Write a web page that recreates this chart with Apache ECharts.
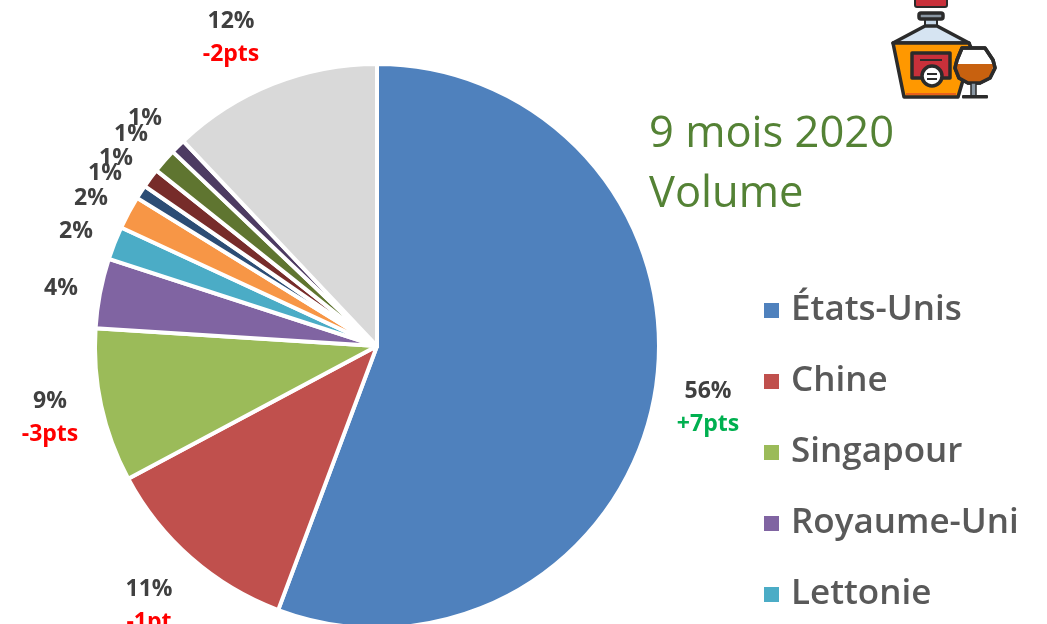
<!DOCTYPE html>
<html>
<head>
<meta charset="utf-8">
<style>html,body{margin:0;padding:0;background:#fff}#c{width:1047px;height:624px}</style>
<script src="https://cdn.jsdelivr.net/npm/echarts@6/dist/echarts.min.js"></script>
</head>
<body>
<div id="c"></div>
<script>
const categories = ['États-Unis','Chine','Singapour','Royaume-Uni','Lettonie','Marché 6','Marché 7','Marché 8','Marché 9','Marché 10','Autres'];
const legendNames = ['États-Unis','Chine','Singapour','Royaume-Uni','Lettonie'];
const values = [55.7,11.5,8.8,4.0,1.9,1.9,0.8,1.1,1.4,0.85,12.05];
const shareLabels = ['56%','11%','9%','4%','2%','2%','1%','1%','1%','1%','12%'];
const deltaLabels = ['+7pts','-1pt','-3pts','','','','','','','','-2pts'];
const colors = ['#4F81BD','#C0504D','#9BBB59','#8064A2','#4BACC6','#F79646','#2C4D75','#772C2A','#5F7530','#4D3B62','#D9D9D9'];
const labelAnchors = [[708,408],[149,606],[50,418],[61,288],[76,231],[91,198],[105,173],[116,158],[131,134],[145,118],[231,38]];

const font = '"Open Sans","Noto Sans",sans-serif';
const ink = '#2b2b2b', stroke = 3.5;
const s = (fill, w) => ({fill: fill, stroke: w ? ink : 'none', lineWidth: w || 0, lineJoin:'round'});
const bowl = [[962,48],[985,48],[993,60],[995,68],[990,78],[980,83],[968,83],[959,78],[955,68],[957,60]];
const icon = [
  {type:'rect', shape:{x:915,y:-6,width:32,height:13,r:2}, style:s('#C8303A',2)},
  {type:'polygon', shape:{points:[[925,19],[937,19],[937,27],[925,27]]}, style:s('#C5D6E6',2)},
  {type:'polygon', shape:{points:[[925,26],[937,26],[969,43],[893,43]]}, style:s('#D6E4F2',stroke)},
  {type:'rect', shape:{x:919,y:13,width:24,height:6,r:2}, style:s('#8A97A3',stroke)},
  {type:'polygon', shape:{points:[[893,43],[969,43],[972,50],[958,97],[904,97]]}, style:s('#FF9800',stroke)},
  {type:'rect', shape:{x:906,y:93,width:50,height:2}, style:s('#E8601C')},
  {type:'rect', shape:{x:912,y:53,width:38,height:25}, style:s('#C8303A',stroke)},
  {type:'rect', shape:{x:920,y:59,width:22,height:2}, style:s(ink)},
  {type:'circle', shape:{cx:932,cy:76,r:10}, style:s('#FFFFFF',stroke)},
  {type:'rect', shape:{x:927,y:73,width:10,height:2}, style:s(ink)},
  {type:'rect', shape:{x:927,y:78,width:10,height:2}, style:s(ink)},
  {type:'polygon', shape:{points:bowl}, style:s('#FFFFFF',stroke)},
  {type:'polygon', shape:{points:[[956,64],[994,64],[990,77],[980,82],[968,82],[959,77]]}, style:s('#C8610F')},
  {type:'polygon', shape:{points:bowl}, style:{fill:'none',stroke:ink,lineWidth:stroke,lineJoin:'round'}},
  {type:'rect', shape:{x:971,y:83,width:5,height:13}, style:s('#8A97A3',1.5)},
  {type:'rect', shape:{x:962,y:95,width:26,height:3.5,r:1}, style:s(ink)}
];

const chart = echarts.init(document.getElementById('c'), null, {renderer:'canvas'});
chart.setOption({
  animation:false,
  backgroundColor:'#fff',
  title:{
    text:'9 mois 2020\nVolume', left:644, top:100,
    textStyle:{color:'#548235', fontFamily:font, fontWeight:'normal', fontSize:43.5, lineHeight:60}
  },
  legend:{
    data:legendNames, orient:'vertical', left:762, top:293, icon:'rect',
    itemWidth:17, itemHeight:17, itemGap:36, padding:0,
    textStyle:{color:'#595959', fontFamily:font, fontWeight:600, fontSize:35, lineHeight:32, padding:[0,0,0,6]}
  },
  graphic:icon,
  series:[{
    type:'pie', center:[377,346], radius:[0,282], startAngle:90, clockwise:true,
    avoidLabelOverlap:false, silent:true,
    itemStyle:{borderColor:'#fff', borderWidth:4},
    labelLine:{show:false},
    data:categories.map((name,i)=>({
      name:name, value:values[i], itemStyle:{color:colors[i]},
      label:{
        show:true,
        formatter: deltaLabels[i] ? '{a|'+shareLabels[i]+'}\n{'+(deltaLabels[i][0]==='+'?'u':'d')+'|'+deltaLabels[i]+'}' : '{a|'+shareLabels[i]+'}'
      }
    })),
    label:{
      rich:{
        a:{color:'#404040', fontFamily:font, fontWeight:'bold', fontSize:23, lineHeight:33, align:'center'},
        d:{color:'#FF0000', fontFamily:font, fontWeight:'bold', fontSize:23, lineHeight:33, align:'center'},
        u:{color:'#00B050', fontFamily:font, fontWeight:'bold', fontSize:23, lineHeight:33, align:'center'}
      }
    },
    labelLayout:function(p){
      const a = labelAnchors[p.dataIndex];
      return {x:a[0], y:a[1], align:'center', verticalAlign:'middle', hideOverlap:false, moveOverlap:null};
    }
  }]
});
</script>
</body>
</html>
